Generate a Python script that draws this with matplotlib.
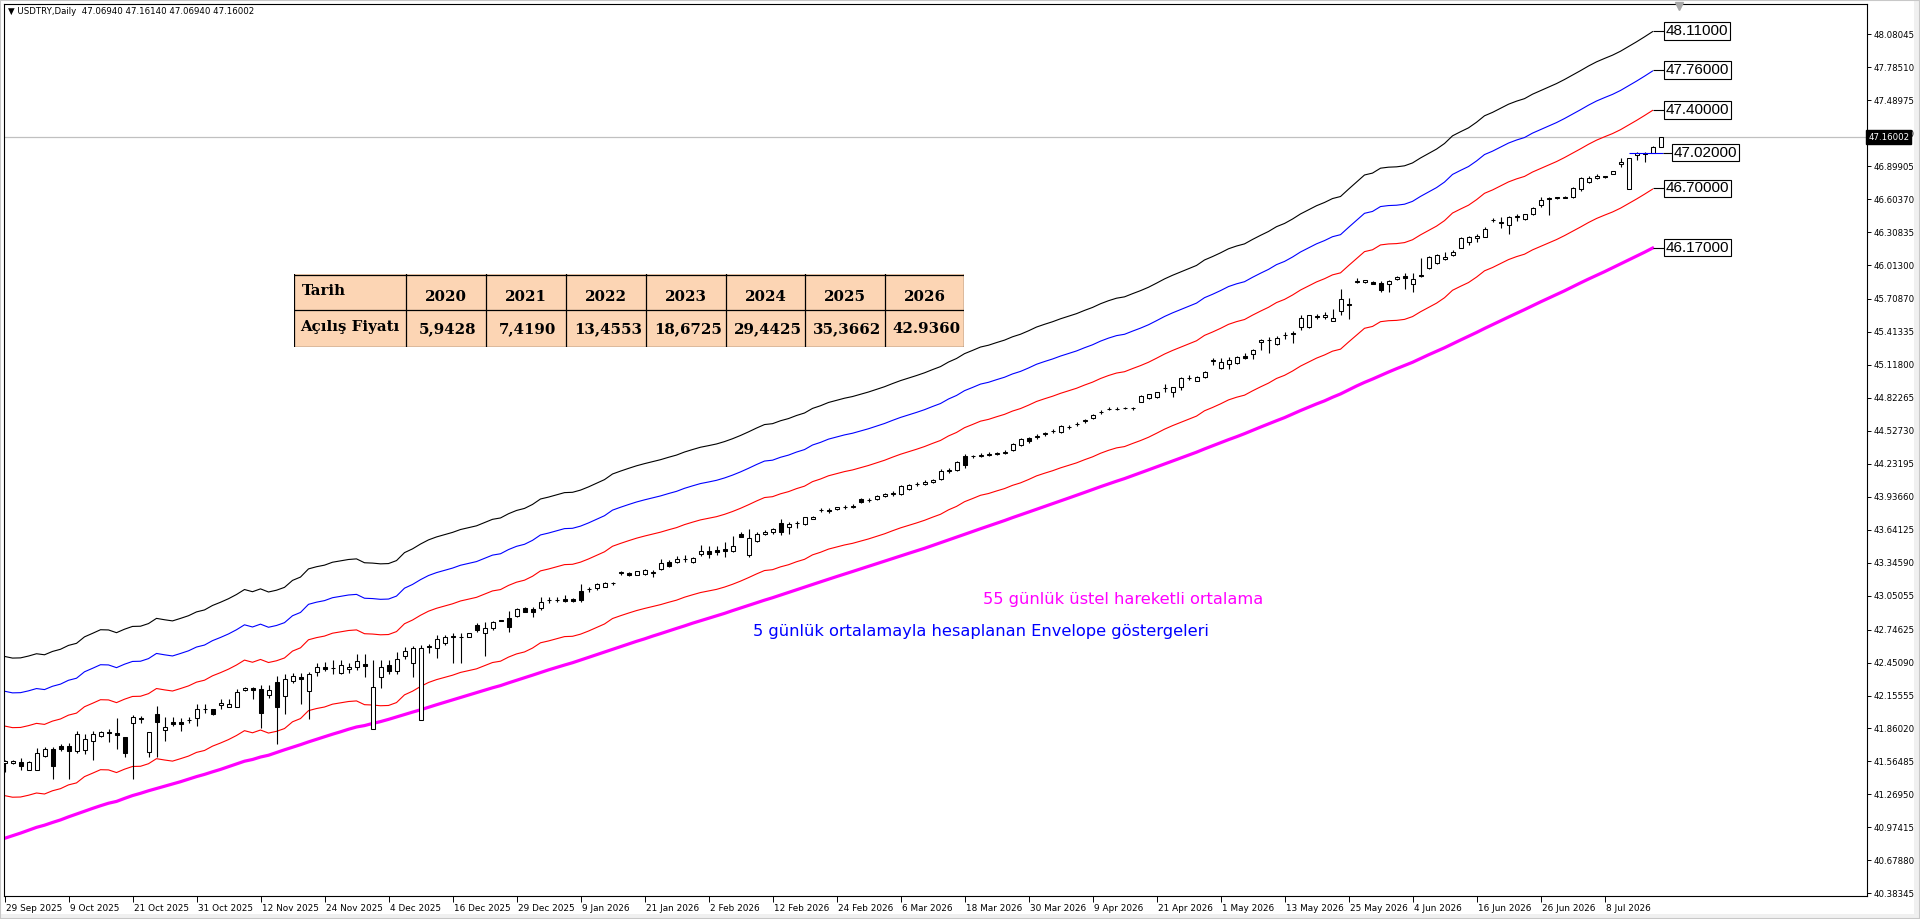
import numpy as np
import pandas as pd
import matplotlib
matplotlib.use("Agg")
import matplotlib.pyplot as plt
import matplotlib.transforms as mtrans
from matplotlib.patches import Rectangle

# daily candles, bar 0 = 29 Sep 2025
opens = [41.554, 41.548, 41.563, 41.488, 41.488, 41.614, 41.673, 41.703, 41.703, 41.658,
         41.667, 41.748, 41.793, 41.829, 41.817, 41.781, 41.906, 41.950, 41.652, 41.987,
         41.844, 41.918, 41.918, 41.937, 41.951, 42.037, 42.032, 42.071, 42.056, 42.056,
         42.205, 42.223, 42.211, 42.157, 42.277, 42.151, 42.289, 42.319, 42.196, 42.363,
         42.408, 42.400, 42.354, 42.390, 42.408, 42.441, 41.856, 42.319, 42.429, 42.378,
         42.510, 42.444, 41.936, 42.602, 42.578, 42.623, 42.689, 42.677, 42.683, 42.785,
         42.713, 42.758, 42.832, 42.847, 42.871, 42.937, 42.928, 42.937, 43.011, 43.011,
         43.017, 43.017, 43.095, 43.107, 43.116, 43.131, 43.161, 43.256, 43.250, 43.235,
         43.244, 43.256, 43.286, 43.355, 43.355, 43.376, 43.349, 43.421, 43.451, 43.460,
         43.469, 43.454, 43.603, 43.415, 43.543, 43.600, 43.618, 43.698, 43.663, 43.698,
         43.692, 43.737, 43.818, 43.818, 43.824, 43.842, 43.848, 43.912, 43.905, 43.920,
         43.945, 43.958, 43.962, 44.005, 44.048, 44.055, 44.072, 44.100, 44.168, 44.180,
         44.305, 44.298, 44.305, 44.315, 44.322, 44.332, 44.360, 44.400, 44.462, 44.470,
         44.500, 44.525, 44.520, 44.560, 44.585, 44.615, 44.640, 44.695, 44.723, 44.722,
         44.729, 44.729, 44.789, 44.818, 44.827, 44.908, 44.878, 44.917, 44.998, 44.977,
         45.007, 45.156, 45.093, 45.123, 45.132, 45.201, 45.213, 45.320, 45.341, 45.302,
         45.386, 45.401, 45.461, 45.455, 45.556, 45.544, 45.514, 45.604, 45.664, 45.864,
         45.858, 45.864, 45.849, 45.843, 45.885, 45.915, 45.840, 45.921, 45.989, 46.028,
         46.067, 46.103, 46.168, 46.222, 46.252, 46.267, 46.416, 46.386, 46.372, 46.440,
         46.422, 46.467, 46.551, 46.614, 46.620, 46.626, 46.620, 46.691, 46.760, 46.790,
         46.811, 46.829, 46.915, 46.694, 46.999, 47.020, 47.020, 47.0694]
highs = [41.578, 41.575, 41.599, 41.566, 41.688, 41.697, 41.697, 41.721, 41.727, 41.838,
         41.811, 41.838, 41.838, 41.853, 41.951, 41.787, 41.981, 41.975, 41.829, 42.062,
         41.960, 41.966, 41.951, 41.966, 42.077, 42.077, 42.038, 42.121, 42.121, 42.217,
         42.235, 42.235, 42.247, 42.247, 42.330, 42.348, 42.354, 42.354, 42.369, 42.450,
         42.453, 42.474, 42.474, 42.450, 42.528, 42.528, 42.474, 42.474, 42.474, 42.543,
         42.587, 42.599, 42.608, 42.614, 42.698, 42.698, 42.713, 42.719, 42.719, 42.802,
         42.817, 42.826, 42.835, 42.916, 42.937, 42.952, 42.952, 43.035, 43.035, 43.041,
         43.056, 43.026, 43.155, 43.131, 43.167, 43.176, 43.176, 43.274, 43.265, 43.274,
         43.289, 43.280, 43.376, 43.370, 43.406, 43.415, 43.394, 43.501, 43.495, 43.495,
         43.534, 43.585, 43.624, 43.648, 43.624, 43.639, 43.660, 43.737, 43.713, 43.722,
         43.758, 43.761, 43.839, 43.839, 43.845, 43.860, 43.868, 43.925, 43.925, 43.955,
         43.970, 43.985, 44.045, 44.055, 44.065, 44.085, 44.100, 44.185, 44.190, 44.260,
         44.320, 44.315, 44.325, 44.335, 44.340, 44.355, 44.420, 44.465, 44.475, 44.495,
         44.520, 44.545, 44.580, 44.580, 44.605, 44.635, 44.680, 44.715, 44.744, 44.740,
         44.745, 44.744, 44.848, 44.860, 44.875, 44.947, 44.923, 45.013, 45.027, 45.016,
         45.060, 45.177, 45.177, 45.186, 45.195, 45.222, 45.261, 45.353, 45.371, 45.380,
         45.416, 45.425, 45.565, 45.568, 45.574, 45.595, 45.616, 45.798, 45.715, 45.894,
         45.882, 45.867, 45.873, 45.879, 45.918, 45.938, 45.938, 46.073, 46.094, 46.109,
         46.133, 46.148, 46.267, 46.276, 46.291, 46.357, 46.431, 46.440, 46.452, 46.470,
         46.470, 46.536, 46.620, 46.620, 46.623, 46.629, 46.709, 46.805, 46.814, 46.826,
         46.814, 46.859, 46.969, 46.972, 47.029, 47.029, 47.077, 47.1614]
lows = [41.473, 41.542, 41.488, 41.485, 41.485, 41.608, 41.405, 41.658, 41.405, 41.638,
        41.628, 41.578, 41.781, 41.742, 41.673, 41.608, 41.405, 41.906, 41.602, 41.608,
        41.751, 41.882, 41.841, 41.906, 41.882, 42.002, 41.984, 42.032, 42.050, 42.050,
        42.199, 42.127, 41.868, 42.130, 41.721, 41.990, 42.265, 42.080, 41.948, 42.330,
        42.378, 42.348, 42.345, 42.354, 42.384, 42.325, 41.853, 42.226, 42.345, 42.348,
        42.483, 42.325, 41.933, 42.534, 42.489, 42.605, 42.450, 42.450, 42.677, 42.728,
        42.510, 42.743, 42.820, 42.722, 42.862, 42.901, 42.856, 42.922, 42.982, 42.991,
        42.991, 42.997, 42.997, 43.086, 43.101, 43.125, 43.146, 43.235, 43.227, 43.232,
        43.235, 43.215, 43.280, 43.310, 43.340, 43.355, 43.346, 43.409, 43.385, 43.415,
        43.400, 43.445, 43.573, 43.400, 43.534, 43.594, 43.603, 43.594, 43.600, 43.654,
        43.683, 43.734, 43.797, 43.794, 43.820, 43.828, 43.835, 43.880, 43.890, 43.910,
        43.930, 43.945, 43.950, 43.995, 44.030, 44.045, 44.060, 44.090, 44.150, 44.170,
        44.190, 44.280, 44.290, 44.300, 44.310, 44.320, 44.350, 44.395, 44.420, 44.455,
        44.485, 44.510, 44.510, 44.545, 44.570, 44.600, 44.630, 44.680, 44.714, 44.712,
        44.720, 44.714, 44.783, 44.815, 44.824, 44.878, 44.833, 44.893, 44.983, 44.974,
        45.004, 45.117, 45.081, 45.078, 45.129, 45.168, 45.168, 45.251, 45.222, 45.296,
        45.347, 45.311, 45.431, 45.452, 45.526, 45.526, 45.511, 45.565, 45.526, 45.849,
        45.855, 45.840, 45.774, 45.768, 45.879, 45.795, 45.774, 45.909, 45.974, 46.019,
        46.058, 46.097, 46.162, 46.192, 46.222, 46.261, 46.401, 46.342, 46.288, 46.407,
        46.419, 46.458, 46.536, 46.461, 46.608, 46.614, 46.617, 46.679, 46.751, 46.784,
        46.796, 46.826, 46.894, 46.691, 46.954, 46.939, 47.017, 47.0694]
closes = [41.572, 41.569, 41.527, 41.563, 41.638, 41.673, 41.524, 41.673, 41.658, 41.808,
          41.763, 41.808, 41.826, 41.817, 41.799, 41.643, 41.960, 41.948, 41.826, 41.915,
          41.871, 41.900, 41.897, 41.936, 42.032, 42.038, 41.987, 42.092, 42.077, 42.187,
          42.223, 42.205, 41.996, 42.202, 42.050, 42.301, 42.330, 42.301, 42.348, 42.408,
          42.396, 42.399, 42.429, 42.408, 42.468, 42.423, 42.229, 42.414, 42.375, 42.480,
          42.554, 42.578, 42.578, 42.587, 42.662, 42.683, 42.677, 42.678, 42.713, 42.743,
          42.764, 42.817, 42.823, 42.773, 42.928, 42.907, 42.907, 42.997, 43.012, 43.011,
          43.005, 43.005, 43.011, 43.108, 43.152, 43.167, 43.162, 43.257, 43.235, 43.271,
          43.280, 43.257, 43.346, 43.319, 43.376, 43.377, 43.391, 43.454, 43.421, 43.445,
          43.451, 43.495, 43.579, 43.564, 43.603, 43.618, 43.648, 43.618, 43.692, 43.699,
          43.752, 43.758, 43.819, 43.809, 43.842, 43.845, 43.852, 43.892, 43.910, 43.940,
          43.958, 43.970, 44.030, 44.040, 44.050, 44.070, 44.090, 44.170, 44.172, 44.250,
          44.225, 44.302, 44.312, 44.320, 44.330, 44.340, 44.410, 44.458, 44.432, 44.480,
          44.505, 44.530, 44.570, 44.562, 44.590, 44.620, 44.672, 44.700, 44.724, 44.723,
          44.730, 44.731, 44.839, 44.857, 44.872, 44.909, 44.917, 44.998, 44.999, 45.013,
          45.057, 45.157, 45.147, 45.162, 45.192, 45.177, 45.251, 45.341, 45.342, 45.362,
          45.387, 45.392, 45.535, 45.565, 45.544, 45.565, 45.535, 45.706, 45.655, 45.865,
          45.879, 45.843, 45.789, 45.870, 45.909, 45.894, 45.888, 45.915, 46.088, 46.103,
          46.088, 46.133, 46.252, 46.267, 46.273, 46.333, 46.417, 46.401, 46.446, 46.452,
          46.467, 46.527, 46.596, 46.602, 46.611, 46.617, 46.706, 46.790, 46.796, 46.814,
          46.799, 46.856, 46.933, 46.969, 47.020, 47.005, 47.074, 47.16002]

ema_seed = 40.85     # 55 EMA value at the first visible bar
env_pcts = [2.25, 1.5, 0.75, -0.75]
env_colors = ["black", "blue", "red", "red"]

date_labels = ["29 Sep 2025", "9 Oct 2025", "21 Oct 2025", "31 Oct 2025", "12 Nov 2025",
               "24 Nov 2025", "4 Dec 2025", "16 Dec 2025", "29 Dec 2025", "9 Jan 2026",
               "21 Jan 2026", "2 Feb 2026", "12 Feb 2026", "24 Feb 2026", "6 Mar 2026",
               "18 Mar 2026", "30 Mar 2026", "9 Apr 2026", "21 Apr 2026", "1 May 2026",
               "13 May 2026", "25 May 2026", "4 Jun 2026", "16 Jun 2026", "26 Jun 2026",
               "8 Jul 2026"]
price_ticks = [48.08045, 47.78510, 47.48975, 47.19440, 46.89905, 46.60370, 46.30835,
               46.01300, 45.70870, 45.41335, 45.11800, 44.82265, 44.52730, 44.23195,
               43.93660, 43.64125, 43.34590, 43.05055, 42.74625, 42.45090, 42.15555,
               41.86020, 41.56485, 41.26950, 40.97415, 40.67880, 40.38345]

levels = [48.11, 47.76, 47.40, 46.70, 46.17]
level_mid = 47.02
bid = 47.16002

tbl_years = ["2020", "2021", "2022", "2023", "2024", "2025", "2026"]
tbl_open = ["5,9428", "7,4190", "13,4553", "18,6725", "29,4425", "35,3662", "42.9360"]

txt_ema = "55 günlük üstel hareketli ortalama"
txt_env = "5 günlük ortalamayla hesaplanan Envelope göstergeleri"

#######
W, H = 1920, 919
fig = plt.figure(figsize=(W / 100, H / 100), dpi=100)
fig.patch.set_facecolor("white")

ax = fig.add_axes([4 / W, 1 - 896 / H, 1863 / W, 892 / H])
ax.set_xlim(-0.0625, 232.81)
ax.set_ylim(40.3591, 48.3520)

n = len(closes)
xs = np.arange(n)
c = pd.Series(closes)

# indicators (drawn one bar to the left, as on the chart)
sma5 = c.rolling(5, min_periods=1).mean()
ema55 = pd.Series([ema_seed] + closes[1:]).ewm(span=55, adjust=False).mean()
xi = xs - 1
for p, col in zip(env_pcts, env_colors):
    ax.plot(xi, sma5 * (1 + p / 100), color=col, lw=0.8, zorder=2)
ax.plot(xi, ema55, color="#ff00ff", lw=2.3, zorder=2)

ax.axhline(bid, color="#c0c0c0", lw=0.9, zorder=1)

# candles
o = np.array(opens); h = np.array(highs); l = np.array(lows); cl = np.array(closes)
ax.vlines(xs, l, h, color="black", lw=0.8, zorder=3)
bot = np.minimum(o, cl)
hgt = np.maximum(np.abs(cl - o), 0.002)
fills = np.where(cl >= o, "white", "black")
ax.bar(xs, hgt, bottom=bot, width=0.5, color=fills, edgecolor="black", lw=0.75, zorder=4)

# price labels on the right end
for lv in levels:
    ax.hlines(lv, n - 2, 207.4, color="black", lw=0.8, zorder=3)
    ax.text(207.7, lv, f"{lv:.5f}", ha="left", va="center", fontsize=11,
            family="Liberation Sans", zorder=6,
            bbox=dict(boxstyle="square,pad=0.12", fc="white", ec="black", lw=0.8))
ax.hlines(level_mid, 203, 207.3, color="blue", lw=0.8, zorder=5)
ax.hlines(level_mid, 207.3, 208.4, color="black", lw=0.8, zorder=5)
ax.text(208.7, level_mid, f"{level_mid:.5f}", ha="left", va="center", fontsize=11,
        family="Liberation Sans", zorder=6,
        bbox=dict(boxstyle="square,pad=0.12", fc="white", ec="black", lw=0.8))

# annotations
ax.text(122.3, 43.02, txt_ema, color="#ff00ff", fontsize=11.7, va="center", ha="left")
ax.text(93.6, 42.73, txt_env, color="blue", fontsize=11.7, va="center", ha="left")

# axes styling
for s in ax.spines.values():
    s.set_color("black"); s.set_linewidth(0.8)
ax.yaxis.tick_right()
ax.set_yticks(price_ticks)
ax.set_yticklabels([f"{v:.5f}" for v in price_ticks])
ax.tick_params(axis="y", length=3, width=0.7, pad=2, labelsize=6.2, colors="black")
ax.set_xticks(xs[:len(date_labels) * 8:8])
ax.set_xticklabels(date_labels, ha="left")
ax.tick_params(axis="x", length=4, width=0.7, pad=2, labelsize=6.4)
off = mtrans.ScaledTranslation(1 / 100, 0, fig.dpi_scale_trans)
for lbl in ax.get_xticklabels():
    lbl.set_transform(lbl.get_transform() + off)

trans = mtrans.blended_transform_factory(ax.transAxes, ax.transData)
ax.text(1.0006, bid, f"{bid:.5f}", transform=trans, color="white", fontsize=6.2,
        va="center", ha="left", zorder=10, clip_on=False,
        bbox=dict(boxstyle="square,pad=0.25", fc="black", ec="black"))
ax.plot([209.3], [48.33], marker="v", color="#a8a8a8", ms=6, zorder=5, clip_on=False)

fig.text(8 / W, 1 - 12 / H, "\u25bc USDTRY,Daily  47.06940 47.16140 47.06940 47.16002",
         fontsize=6.2, va="center", ha="left")

# table of yearly opening prices
tx = fig.add_axes([294 / W, 1 - 347 / H, 670 / W, 73 / H])
tx.set_xlim(294, 964); tx.set_ylim(347, 274)
tx.axis("off")
tx.add_patch(Rectangle((294, 274), 670, 73, fc="#fcd5b4", ec="none"))
col_edges = [294, 406, 486, 566, 646, 726, 805, 885, 964]
for xe in col_edges:
    tx.plot([xe, xe], [274, 347], color="black", lw=0.9)
for ye in [274.5, 310, 346.5]:
    tx.plot([294, 964], [ye, ye], color="black", lw=0.9)
tfont = dict(family="DejaVu Serif", weight="bold", fontsize=10.8, color="black")
tx.text(302, 291, "Tarih", ha="left", va="center", **tfont)
tx.text(300, 327, "Açılış Fiyatı", ha="left", va="center", **tfont)
for k, (yr, val) in enumerate(zip(tbl_years, tbl_open)):
    cx = (col_edges[k + 1] + col_edges[k + 2]) / 2
    tx.text(cx, 297, yr, ha="center", va="center", **tfont)
    tx.text(cx + 2, 329, val, ha="center", va="center", **tfont)

# window frame
fig.add_artist(Rectangle((0, 0), 1, 5 / H, transform=fig.transFigure, fc="#f0f0f0", ec="none"))
fig.add_artist(Rectangle((1 - 6 / W, 0), 6 / W, 1, transform=fig.transFigure, fc="#f0f0f0", ec="none"))
fig.add_artist(Rectangle((0, 0), 1, 1, transform=fig.transFigure, fill=False, ec="#c8c8c8", lw=1.5))

plt.savefig("out.png", dpi=100)
